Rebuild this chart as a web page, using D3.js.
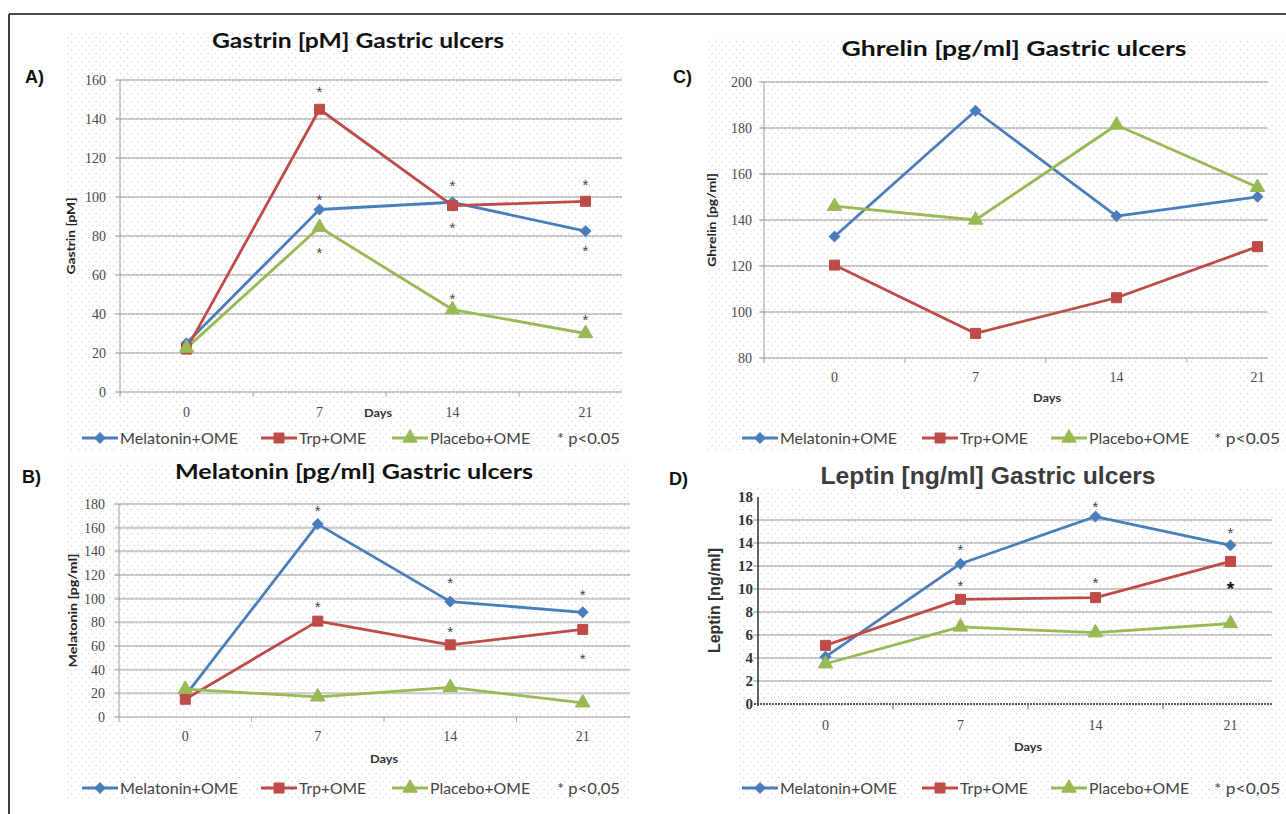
<!DOCTYPE html>
<html><head><meta charset="utf-8">
<script src="https://cdn.jsdelivr.net/npm/d3@7"></script>
<style>body{margin:0;background:#fff}svg{display:block}</style>
</head><body>
<svg id="c" width="1286" height="814"></svg>
<script>
// ---------- data ----------
const days = ["0", "7", "14", "21"];
const seriesNames = ["Melatonin+OME", "Trp+OME", "Placebo+OME"];

const gastrinMel = [25, 93.6, 97.3, 82.5];
const gastrinTrp = [22, 145, 95.6, 97.8];
const gastrinPla = [22.5, 84.5, 42.3, 30];
const gastrinTicks = [0, 20, 40, 60, 80, 100, 120, 140, 160];
const gastrinStars = [["7", 155.8], ["7", 100.2], ["7", 73], ["14", 107.5], ["14", 85.9], ["14", 49.6], ["21", 108], ["21", 74], ["21", 38.5]];

const melatoninMel = [18, 163, 97.5, 88.5];
const melatoninTrp = [15, 81, 61, 74];
const melatoninPla = [23.5, 17, 25, 12];
const melatoninTicks = [0, 20, 40, 60, 80, 100, 120, 140, 160, 180];
const melatoninStars = [["7", 177], ["7", 95.5], ["14", 116], ["14", 74.5], ["21", 106], ["21", 52]];

const ghrelinMel = [132.8, 187.5, 141.7, 150.1];
const ghrelinTrp = [120.4, 90.7, 106.2, 128.4];
const ghrelinPla = [146, 140, 181.3, 154.2];
const ghrelinTicks = [80, 100, 120, 140, 160, 180, 200];
const ghrelinStars = [];

const leptinMel = [4.1, 12.2, 16.3, 13.8];
const leptinTrp = [5.1, 9.1, 9.25, 12.4];
const leptinPla = [3.5, 6.7, 6.2, 7.0];
const leptinTicks = [0, 2, 4, 6, 8, 10, 12, 14, 16, 18];
const leptinStars = [["7", 13.7], ["7", 10.6], ["14", 17.45], ["14", 10.8], ["21", 15.2]];
const leptinBigStars = [["21", 10.4]];

const colors = ["#4a7ebb", "#be4b48", "#98b954"];
const symbols = [d3.symbolSquare, d3.symbolSquare, d3.symbolTriangle];
const symSizes = [56, 100, 90];
const symRot = [45, 0, 0];

// ---------- layout ----------
const panels = [
  {letter: "A)", lx: 25, ly: 83, title: "Gastrin [pM] Gastric ulcers", tx: 358, ty: 48, tlen: 292, tfont: "Lato", tsize: 21, tcolor: "#111",
   bg: [65, 32, 622, 452], x0: 120, bw: 133, clipR: 622, ticks: gastrinTicks, yTop: 80, yBot: 392,
   ylab: "Gastrin [pM]", ylx: 71, ylen: 77, ylfont: "Lato", ylsize: 12, ylcolor: "#222",
   tickFont: "Liberation Serif", tickSize: 14, tickColor: "#4a4a4a", tickRight: 106, xLabY: 417, daysX: 378, daysY: 417,
   legX: [82, 261, 392, 557], legW: [118, 67, 100, 63], legY: 438, legBase: 444, pText: "* p<0.05",
   series: [gastrinMel, gastrinTrp, gastrinPla], stars: gastrinStars, big: [], darkAxis: false},
  {letter: "B)", lx: 22, ly: 483, title: "Melatonin [pg/ml] Gastric ulcers", tx: 354, ty: 479, tlen: 358, tfont: "Lato", tsize: 21, tcolor: "#111",
   bg: [67, 462, 630, 800], x0: 119, bw: 132.5, clipR: 630, ticks: melatoninTicks, yTop: 504, yBot: 717,
   ylab: "Melatonin [pg/ml]", ylx: 73, ylen: 114, ylfont: "Lato", ylsize: 12, ylcolor: "#222",
   tickFont: "Liberation Serif", tickSize: 14, tickColor: "#4a4a4a", tickRight: 105, xLabY: 741, daysX: 384, daysY: 763,
   legX: [82, 261, 392, 557], legW: [118, 67, 100, 63], legY: 788, legBase: 794, pText: "* p<0,05",
   series: [melatoninMel, melatoninTrp, melatoninPla], stars: melatoninStars, big: [], darkAxis: false},
  {letter: "C)", lx: 673, ly: 83, title: "Ghrelin [pg/ml] Gastric ulcers", tx: 1014, ty: 56, tlen: 345, tfont: "Lato", tsize: 21, tcolor: "#111",
   bg: [708, 38, 1286, 450], x0: 764, bw: 141, clipR: 1268, ticks: ghrelinTicks, yTop: 82, yBot: 358,
   ylab: "Ghrelin [pg/ml]", ylx: 712, ylen: 94, ylfont: "Lato", ylsize: 12, ylcolor: "#222",
   tickFont: "Liberation Serif", tickSize: 14, tickColor: "#4a4a4a", tickRight: 752, xLabY: 382, daysX: 1047, daysY: 402,
   legX: [742, 922, 1051, 1214], legW: [117, 68, 100, 66], legY: 438, legBase: 444, pText: "* p<0.05",
   series: [ghrelinMel, ghrelinTrp, ghrelinPla], stars: ghrelinStars, big: [], darkAxis: false},
  {letter: "D)", lx: 669, ly: 485, title: "Leptin [ng/ml] Gastric ulcers", tx: 988, ty: 484, tlen: 335, tfont: "Liberation Sans", tsize: 23, tcolor: "#3c3c3c",
   bg: [737, 488, 1286, 800], x0: 758, bw: 135, clipR: 1272, ticks: leptinTicks, yTop: 497, yBot: 704,
   ylab: "Leptin [ng/ml]", ylx: 714, ylen: 105, ylfont: "Liberation Sans", ylsize: 17, ylcolor: "#333",
   tickFont: "Liberation Serif", tickSize: 15, tickColor: "#333", tickRight: 753, xLabY: 730, daysX: 1028, daysY: 751,
   legX: [742, 922, 1051, 1214], legW: [117, 68, 100, 66], legY: 788, legBase: 794, pText: "* p<0,05",
   series: [leptinMel, leptinTrp, leptinPla], stars: leptinStars, big: leptinBigStars, darkAxis: true}
];

const svg = d3.select("#c");
const defs = svg.append("defs");
const pat = defs.append("pattern").attr("id", "dots").attr("width", 7).attr("height", 8).attr("patternUnits", "userSpaceOnUse");
pat.append("rect").attr("x", 1).attr("y", 1).attr("width", 1.2).attr("height", 1.2).attr("fill", "#d2d2d2");
pat.append("rect").attr("x", 4.5).attr("y", 5).attr("width", 1.2).attr("height", 1.2).attr("fill", "#d2d2d2");

// frame
svg.append("line").attr("x1", 9).attr("x2", 1286).attr("y1", 14).attr("y2", 14).attr("stroke", "#111").attr("stroke-width", 1.6);
svg.append("line").attr("x1", 9).attr("x2", 9).attr("y1", 14).attr("y2", 814).attr("stroke", "#111").attr("stroke-width", 1.6);

panels.forEach((p, pi) => {
  const g = svg.append("g");
  g.append("rect").attr("x", p.bg[0]).attr("y", p.bg[1]).attr("width", p.bg[2] - p.bg[0]).attr("height", p.bg[3] - p.bg[1]).attr("fill", "url(#dots)");

  const clipId = "clip" + pi;
  defs.append("clipPath").attr("id", clipId).append("rect")
    .attr("x", p.x0 - 10).attr("y", p.yTop - 30).attr("width", p.clipR - p.x0 + 10).attr("height", p.yBot - p.yTop + 40);

  const x = d3.scaleBand().domain(days).range([p.x0, p.x0 + p.bw * days.length]).paddingInner(0).paddingOuter(0);
  const y = d3.scaleLinear().domain([p.ticks[0], p.ticks[p.ticks.length - 1]]).range([p.yBot, p.yTop]);
  const cx = d => x(d) + x.bandwidth() / 2;

  const plot = g.append("g").attr("clip-path", `url(#${clipId})`);
  // gridlines
  const gridTicks = p.darkAxis ? p.ticks.slice(1, -1) : p.ticks;
  plot.selectAll(".grid").data(gridTicks).join("line")
    .attr("x1", p.x0 - 5).attr("x2", p.clipR).attr("y1", d => y(d)).attr("y2", d => y(d))
    .attr("stroke", "#c4c4c4").attr("stroke-width", 2);
  plot.selectAll(".gridd").data(gridTicks).join("line")
    .attr("x1", p.x0 - 5).attr("x2", p.clipR).attr("y1", d => y(d)).attr("y2", d => y(d))
    .attr("stroke", "#e8e8e8").attr("stroke-width", 1).attr("stroke-dasharray", "1,3");
  if (p.darkAxis) {
    plot.append("line").attr("x1", p.x0 - 4).attr("x2", p.clipR).attr("y1", p.yBot).attr("y2", p.yBot)
      .attr("stroke", "#222").attr("stroke-width", 1.6).attr("stroke-dasharray", "2,1");
  }
  // x boundary ticks
  const bounds = d3.range(days.length + 1).map(i => p.x0 + i * x.step());
  plot.selectAll(".xt").data(bounds.slice(1)).join("line")
    .attr("x1", d => d).attr("x2", d => d).attr("y1", p.yBot).attr("y2", p.yBot + 5)
    .attr("stroke", p.darkAxis ? "#666" : "#aaa").attr("stroke-width", 1);

  // y axis
  const yAxis = d3.axisLeft(y).tickValues(p.ticks).tickSize(0).tickPadding(p.x0 - p.tickRight);
  const ya = g.append("g").attr("transform", `translate(${p.x0},0)`).call(yAxis);
  ya.select(".domain").remove();
  ya.selectAll("text").attr("font-family", p.tickFont).attr("font-size", p.tickSize).attr("fill", p.tickColor)
    .attr("font-weight", p.darkAxis ? "bold" : "normal");
  g.append("line").attr("x1", p.x0).attr("x2", p.x0).attr("y1", p.yTop).attr("y2", p.yBot + (p.darkAxis ? 2 : 5))
    .attr("stroke", p.darkAxis ? "#333" : "#9a9a9a").attr("stroke-width", p.darkAxis ? 1.5 : 1);

  // x axis labels
  const xAxis = d3.axisBottom(x).tickSize(0).tickPadding(0);
  const xa = g.append("g").attr("transform", `translate(0,${p.xLabY})`).call(xAxis);
  xa.select(".domain").remove();
  xa.selectAll("text").attr("dy", 0).attr("font-family", "Liberation Serif").attr("font-size", 14).attr("fill", "#4a4a4a");

  // Days
  g.append("text").attr("x", p.daysX).attr("y", p.daysY).attr("text-anchor", "middle")
    .attr("font-family", "Lato").attr("font-weight", "bold").attr("font-size", 12).attr("fill", "#333")
    .attr("textLength", 28).attr("lengthAdjust", "spacingAndGlyphs").text("Days");

  // y label
  const ymid = (p.yTop + p.yBot) / 2;
  g.append("text").attr("transform", `translate(${p.ylx},${ymid}) rotate(-90)`).attr("text-anchor", "middle")
    .attr("dy", "0.35em").attr("font-family", p.ylfont).attr("font-weight", "bold").attr("font-size", p.ylsize)
    .attr("fill", p.ylcolor).attr("textLength", p.ylen).attr("lengthAdjust", "spacingAndGlyphs").text(p.ylab);

  // title
  g.append("text").attr("x", p.tx).attr("y", p.ty).attr("text-anchor", "middle")
    .attr("font-family", p.tfont).attr("font-weight", "bold").attr("font-size", p.tsize).attr("fill", p.tcolor)
    .attr("textLength", p.tlen).attr("lengthAdjust", "spacingAndGlyphs").text(p.title);
  // letter
  svg.append("text").attr("x", p.lx).attr("y", p.ly).attr("font-family", "Liberation Sans").attr("font-weight", "bold")
    .attr("font-size", 18).attr("fill", "#111").text(p.letter);

  // series
  const line = d3.line().x((d, i) => cx(days[i])).y(d => y(d));
  p.series.forEach((vals, si) => {
    plot.append("path").datum(vals).attr("d", line).attr("fill", "none")
      .attr("stroke", colors[si]).attr("stroke-width", 2.8).attr("stroke-linejoin", "round");
  });
  p.series.forEach((vals, si) => {
    plot.selectAll(".m" + si).data(vals).join("path")
      .attr("transform", (d, i) => `translate(${cx(days[i])},${y(d)}) rotate(${symRot[si]})`)
      .attr("d", d3.symbol(symbols[si], symSizes[si]))
      .attr("fill", colors[si]).attr("stroke", colors[si]).attr("stroke-width", 1);
  });

  // stars
  g.selectAll(".st").data(p.stars).join("text")
    .attr("x", d => cx(d[0])).attr("y", d => y(d[1]) + 8.5).attr("text-anchor", "middle")
    .attr("font-family", "Liberation Sans").attr("font-size", 15).attr("fill", "#444").text("*");
  g.selectAll(".bst").data(p.big).join("text")
    .attr("x", d => cx(d[0])).attr("y", d => y(d[1]) + 11).attr("text-anchor", "middle")
    .attr("font-family", "Liberation Sans").attr("font-weight", "bold").attr("font-size", 19).attr("fill", "#111").text("*");

  // legend
  seriesNames.forEach((name, si) => {
    const lx = p.legX[si];
    g.append("line").attr("x1", lx).attr("x2", lx + 36).attr("y1", p.legY).attr("y2", p.legY)
      .attr("stroke", colors[si]).attr("stroke-width", 2.8);
    g.append("path").attr("transform", `translate(${lx + 18},${p.legY}) rotate(${symRot[si]})`).attr("d", d3.symbol(symbols[si], symSizes[si]))
      .attr("fill", colors[si]).attr("stroke", colors[si]);
    g.append("text").attr("x", lx + 38).attr("y", p.legBase).attr("font-family", "Lato").attr("font-size", 16)
      .attr("fill", "#444").attr("textLength", p.legW[si]).attr("lengthAdjust", "spacingAndGlyphs").text(name);
  });
  g.append("text").attr("x", p.legX[3]).attr("y", p.legBase).attr("font-family", "Lato").attr("font-size", 16)
    .attr("fill", "#444").attr("textLength", p.legW[3]).attr("lengthAdjust", "spacingAndGlyphs").text(p.pText);
});
</script>
</body></html>
